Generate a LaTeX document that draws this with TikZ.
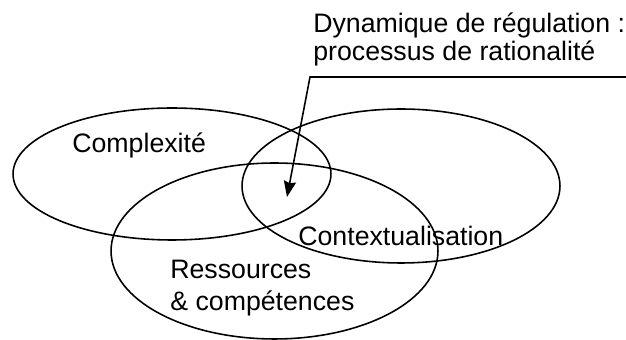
\documentclass[tikz,border=0pt]{standalone}
\usepackage{fontspec}
\setmainfont{Liberation Sans}
\usetikzlibrary{shapes.geometric, arrows.meta}

\begin{document}
\begin{tikzpicture}[x=0.02cm, y=-0.02cm,
    zone/.style ={ellipse, draw, line width=0.9pt, inner sep=0pt},
    zonetext/.style ={inner sep=0pt, anchor=base west, font=\fontsize{15.2pt}{16pt}\selectfont}]
   \useasboundingbox (0,0) rectangle (626,340);
   \node[zone, minimum width=6.36cm, minimum height=2.64cm] (complex) at (172,174) {};
   \node[zone, minimum width=6.36cm, minimum height=3.08cm] (context) at (401,186) {};
   \node[zone, minimum width=6.54cm, minimum height=3.52cm] (resources) at (274.5,251) {};
   \node[zonetext] (complexlabel) at (72,153) {Complexité};
   \node[zonetext] (contextlabel) at (298,246) {Contextualisation};
   \node[zonetext] (resourceslabel) at (170,279) {Ressources};
   \node[zonetext] (skillslabel) at (170,311) {\& compétences};
   \node[zonetext] (dynlabel) at (313,33) {Dynamique de régulation :};
   \node[zonetext] (proclabel) at (313,61) {processus de rationalité};
   \coordinate (lineend) at (626,77);
   \coordinate (bend) at (310,77);
   \coordinate (target) at (287,197);
   \draw[line width=0.9pt, -{Stealth[length=9pt, width=7pt, inset=1pt]}] (lineend) -- (bend) -- (target);
 \end{tikzpicture}
\end{document}
